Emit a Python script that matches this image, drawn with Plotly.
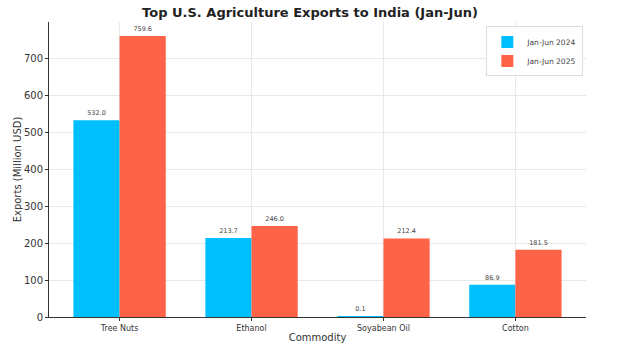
import plotly.graph_objects as go

categories = ["Tree Nuts", "Ethanol", "Soyabean Oil", "Cotton"]
values_2024 = [532.0, 213.7, 0.1, 86.9]
values_2025 = [759.6, 246.0, 212.4, 181.5]
series_names = ["Jan-Jun 2024", "Jan-Jun 2025"]

FONT = "DejaVu Sans"

fig = go.Figure()
for name, vals, color in [(series_names[0], values_2024, "#00BFFF"),
                          (series_names[1], values_2025, "#FF6347")]:
    fig.add_trace(go.Bar(
        x=categories, y=vals, name=name, marker=dict(color=color, line=dict(width=0)),
        text=[f"{v:.1f}" for v in vals], textposition="outside",
        textfont=dict(size=6.5, color="#444444", family=FONT),
        cliponaxis=False,
    ))

fig.update_layout(
    width=620, height=348,
    margin=dict(l=49, r=34, t=22, b=31),
    paper_bgcolor="white", plot_bgcolor="white",
    barmode="group", bargap=0.3, bargroupgap=0,
    font=dict(family=FONT, color="#333333"),
    title=dict(text="<b>Top U.S. Agriculture Exports to India (Jan-Jun)</b>",
               x=0.5, xanchor="center", y=0.965, yanchor="middle",
               font=dict(size=13, color="#222222", family=FONT)),
    legend=dict(x=0.995, y=0.985, xanchor="right", yanchor="top",
                bgcolor="white", bordercolor="#dddddd", borderwidth=1,
                font=dict(size=7.5, color="#444444"), itemwidth=30,
                tracegroupgap=0),
    showlegend=True,
)
fig.update_xaxes(
    type="category", range=[-0.535, 3.535], automargin=False,
    showline=True, linecolor="#333333", linewidth=1,
    ticks="outside", ticklen=3, tickcolor="#333333",
    showgrid=True, gridcolor="#e8e8e8", gridwidth=1,
    tickfont=dict(size=8, color="#333333"),
    title=dict(text="Commodity", font=dict(size=10, color="#333333"), standoff=2),
)
fig.update_yaxes(
    range=[0, 797.6], tickvals=[0, 100, 200, 300, 400, 500, 600, 700], automargin=False,
    showline=True, linecolor="#333333", linewidth=1,
    ticks="outside", ticklen=3, tickcolor="#333333",
    showgrid=True, gridcolor="#e8e8e8", gridwidth=1, zeroline=False,
    tickfont=dict(size=10, color="#333333"),
    title=dict(text="Exports (Million USD)", font=dict(size=10, color="#333333"), standoff=0),
)

fig.write_html("out.html")
